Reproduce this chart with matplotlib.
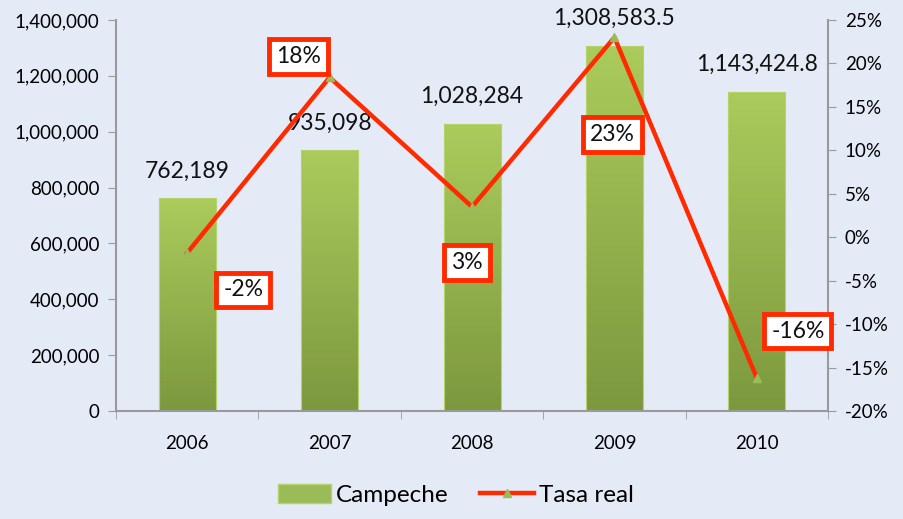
import matplotlib
matplotlib.use('agg')
import matplotlib.pyplot as plt
import numpy as np
from matplotlib.colors import LinearSegmentedColormap
from matplotlib.lines import Line2D
from matplotlib.patches import Patch

plt.rcParams['font.family'] = ['Lato', 'DejaVu Sans']

# data
years = ['2006', '2007', '2008', '2009', '2010']
campeche = [762189, 935098, 1028284, 1308583.5, 1143424.8]
campeche_labels = ['762,189', '935,098', '1,028,284', '1,308,583.5', '1,143,424.8']
tasa = [-1.8, 18.4, 3.5, 23.0, -16.2]
tasa_labels = ['-2%', '18%', '3%', '23%', '-16%']
# label offsets in pixels (x, y) from each line point
tasa_offsets = [(56, -37), (-31, 21), (-5, -56), (-2, -97), (41, 47)]

bg = '#e4eaf6'
red = '#ff2a00'
green_top = '#abcb5c'
green_bot = '#7c983e'

fig = plt.figure(figsize=(9.04, 5.19), dpi=100)
fig.patch.set_facecolor(bg)
ax1 = fig.add_axes([0.1283, 0.208, 0.7877, 0.7535])
ax1.set_facecolor('none')
x = np.arange(len(years))

cmap = LinearSegmentedColormap.from_list('g', [green_bot, green_top])
grad = np.linspace(0, 1, 256).reshape(-1, 1)
bars = ax1.bar(x, campeche, width=0.4, color='none', edgecolor='#b5d36a',
               linewidth=0.8, zorder=2)
for b, h in zip(bars, campeche):
    x0 = b.get_x()
    im = ax1.imshow(grad, cmap=cmap, aspect='auto', origin='lower',
                    extent=[x0, x0 + b.get_width(), 0, h], zorder=1)
    im.set_clip_path(b)

for xi, h, lab in zip(x, campeche, campeche_labels):
    ax1.annotate(lab, (xi, h), xytext=(0, 27), textcoords='offset pixels',
                 ha='center', va='center', fontsize=16.5, color='#111111')

ax1.set_xlim(-0.5, 4.5)
ax1.set_ylim(0, 1400000)
ax1.set_yticks(np.arange(0, 1400001, 200000))
ax1.set_yticklabels(['{:,}'.format(v) for v in range(0, 1400001, 200000)])
ax1.set_xticks(x)
ax1.set_xticklabels(years)
ax1.set_xticks(np.arange(-0.5, 5, 1), minor=True)
ax1.tick_params(axis='x', which='major', length=0, pad=17, labelsize=13.5)
ax1.tick_params(axis='x', which='minor', length=6, color='#9a9a9a', direction='out')
ax1.tick_params(axis='y', length=6, color='#9a9a9a', labelsize=13.5, pad=6)
for s in ['top', 'right']:
    ax1.spines[s].set_visible(False)
for s in ['left', 'bottom']:
    ax1.spines[s].set_color('#9a9a9a')
    ax1.spines[s].set_linewidth(1.5)

ax2 = ax1.twinx()
ax2.set_ylim(-20, 25)
ax2.set_yticks(np.arange(-20, 26, 5))
ax2.set_yticklabels(['{}%'.format(v) for v in range(-20, 26, 5)])
ax2.tick_params(axis='y', length=6, color='#9a9a9a', labelsize=13.5, pad=6)
for s in ['top', 'left', 'bottom']:
    ax2.spines[s].set_visible(False)
ax2.spines['right'].set_color('#9a9a9a')
ax2.spines['right'].set_linewidth(1.5)

ax2.plot(x, tasa, color=red, linewidth=3.2, marker='^', markersize=6,
         markerfacecolor='#9bbb59', markeredgecolor='#9bbb59', zorder=3)
for xi, v, lab, off in zip(x, tasa, tasa_labels, tasa_offsets):
    ax2.annotate(lab, (xi, v), xytext=off, textcoords='offset pixels',
                 ha='center', va='center', fontsize=16.5, color='#111111',
                 bbox=dict(boxstyle='square,pad=0.3', facecolor='white',
                           edgecolor=red, linewidth=3.5), zorder=4)

handles = [Patch(facecolor='#9bbb59', edgecolor='#b5d36a'),
           Line2D([0], [0], color=red, linewidth=3.2, marker='^', markersize=6,
                  markerfacecolor='#9bbb59', markeredgecolor='#9bbb59')]
fig.legend(handles, ['Campeche', 'Tasa real'], loc='center',
           bbox_to_anchor=(0.504, 0.046), ncol=2, frameon=False, fontsize=17.5,
           handlelength=2.2, handleheight=0.8, columnspacing=1.3,
           handletextpad=0.2)

fig.savefig('out.png', dpi=100, facecolor=bg)
